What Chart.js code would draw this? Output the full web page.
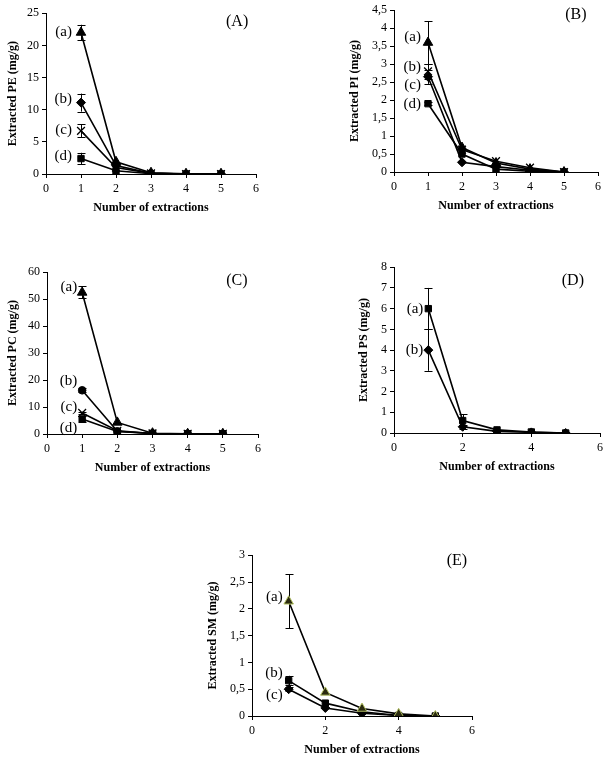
<!DOCTYPE html>
<html><head><meta charset="utf-8">
<script src="https://cdn.jsdelivr.net/npm/chart.js@4"></script>
<style>
html,body{margin:0;padding:0;background:#fff;width:609px;height:758px;overflow:hidden;}
canvas{position:absolute;}
</style></head><body>
<canvas id="cA"></canvas><canvas id="cB"></canvas><canvas id="cC"></canvas><canvas id="cD"></canvas><canvas id="cE"></canvas>
<script>
// ---- data ----
const extractions = [1, 2, 3, 4, 5];

// Panel A: PE
const peA = [22.0, 1.9, 0.2, 0.05, 0.05];
const peB = [11.1, 1.3, 0.1, 0.0, 0.0];
const peC = [6.7, 1.0, 0.1, 0.0, 0.0];
const peD = [2.4, 0.5, 0.05, 0.0, 0.0];
const peErrA = [1.2, 0, 0, 0, 0];
const peErrB = [1.4, 0, 0, 0, 0];
const peErrC = [1.0, 0, 0, 0, 0];
const peErrD = [0.9, 0, 0, 0, 0];

// Panel B: PI
const piA = [3.6, 0.68, 0.25, 0.08, 0.0];
const piB = [2.8, 0.62, 0.3, 0.12, 0.0];
const piC = [2.65, 0.27, 0.15, 0.05, 0.0];
const piD = [1.9, 0.5, 0.08, 0.02, 0.0];
const piErrA = [0.6, 0, 0, 0, 0];
const piErrB = [0.2, 0, 0, 0, 0];
const piErrC = [0.2, 0, 0, 0, 0];
const piErrD = [0.05, 0, 0, 0, 0];

// Panel C: PC
const pcA = [52.5, 4.3, 0.3, 0.1, 0.1];
const pcB = [16.2, 1.0, 0.2, 0.1, 0.1];
const pcC = [7.8, 1.2, 0.2, 0.1, 0.1];
const pcD = [5.6, 0.9, 0.2, 0.1, 0.1];
const pcErrA = [2.2, 0, 0, 0, 0];
const pcErrB = [0.8, 0, 0, 0, 0];
const pcErrC = [0.5, 0, 0, 0, 0];
const pcErrD = [1.0, 0, 0, 0, 0];

// Panel D: PS
const psA = [6.0, 0.6, 0.15, 0.05, 0.0];
const psB = [4.0, 0.3, 0.08, 0.03, 0.0];
const psErrA = [1.0, 0.3, 0, 0, 0];
const psErrB = [1.0, 0.1, 0, 0, 0];

// Panel E: SM
const smA = [2.14, 0.44, 0.14, 0.04, 0.0];
const smB = [0.66, 0.24, 0.08, 0.01, 0.0];
const smC = [0.5, 0.15, 0.05, 0.01, 0.0];
const smErrA = [0.5, 0, 0, 0, 0];
const smErrB = [0.09, 0, 0, 0, 0];
const smErrC = [0.04, 0, 0, 0, 0];

const seriesLabels4 = ['(a)', '(b)', '(c)', '(d)'];
const panelNames = ['(A)', '(B)', '(C)', '(D)', '(E)'];
const yTitles = ['Extracted PE (mg/g)', 'Extracted PI (mg/g)', 'Extracted PC (mg/g)', 'Extracted PS (mg/g)', 'Extracted SM (mg/g)'];
const xTitle = 'Number of extractions';

// ---- rendering ----
const FONT = "'Liberation Serif', 'Times New Roman', serif";

function mkSeries(vals, errs, style, radius, fill, border) {
  return {
    data: extractions.map((x, i) => ({x: x, y: vals[i]})),
    errs: errs,
    borderColor: '#000', borderWidth: 1.6,
    pointStyle: style, pointRadius: radius,
    pointBackgroundColor: fill || '#000',
    pointBorderColor: border || '#000',
    pointBorderWidth: style === 'crossRot' ? 1.3 : 1,
    tension: 0, fill: false
  };
}

const overlay = {
  id: 'overlay',
  beforeDatasetsDraw(chart) {
    const ctx = chart.ctx, xs = chart.scales.x, ys = chart.scales.y;
    ctx.save(); ctx.strokeStyle = '#000'; ctx.lineWidth = 1;
    chart.data.datasets.forEach(ds => {
      ds.data.forEach((p, i) => {
        const e = ds.errs[i]; if (!e) return;
        const px = Math.round(xs.getPixelForValue(p.x)) + 0.5;
        const y1 = ys.getPixelForValue(p.y + e), y2 = ys.getPixelForValue(Math.max(0, p.y - e));
        ctx.beginPath();
        ctx.moveTo(px, y1); ctx.lineTo(px, y2);
        ctx.moveTo(px - 4, Math.round(y1) + 0.5); ctx.lineTo(px + 4, Math.round(y1) + 0.5);
        ctx.moveTo(px - 4, Math.round(y2) + 0.5); ctx.lineTo(px + 4, Math.round(y2) + 0.5);
        ctx.stroke();
      });
    });
    ctx.restore();
  },
  afterDraw(chart) {
    const o = chart.options.plugins.overlay;
    const ctx = chart.ctx, xs = chart.scales.x, ys = chart.scales.y;
    ctx.save(); ctx.fillStyle = '#000';
    ctx.font = '15px ' + FONT;
    ctx.textBaseline = 'middle';
    ctx.textAlign = 'right';
    o.labels.forEach((t, i) => {
      ctx.fillText(t, xs.getPixelForValue(1) - o.off, ys.getPixelForValue(o.labelY[i]));
    });
    ctx.textAlign = 'center';
    ctx.font = '16px ' + FONT;
    ctx.fillText(o.panel, xs.getPixelForValue(o.panelPos[0]), ys.getPixelForValue(o.panelPos[1]));
    ctx.restore();
  }
};

function makePanel(id, area, yw, ymax, ystep, xstep, datasets, yTitle, ov) {
  const xh = 41, padT = 10, padR = 10;
  const c = document.getElementById(id);
  const w = area.r - area.l + yw + padR, h = area.b - area.t + padT + xh;
  c.width = w; c.height = h;
  c.style.left = (area.l - yw) + 'px'; c.style.top = (area.t - padT) + 'px';
  c.style.width = w + 'px'; c.style.height = h + 'px';
  const axisCommon = {
    grid: {display: true, drawOnChartArea: false, drawTicks: true, tickLength: 4, color: '#000', lineWidth: 1},
    border: {display: true, color: '#000', width: 1}
  };
  new Chart(c, {
    type: 'line',
    data: {datasets: datasets},
    options: {
      responsive: false, animation: false, devicePixelRatio: 1,
      layout: {padding: {top: padT, right: padR, left: 0, bottom: 0}},
      plugins: {legend: {display: false}, tooltip: {enabled: false}, overlay: ov},
      scales: {
        x: Object.assign({
          type: 'linear', min: 0, max: 6,
          ticks: {stepSize: xstep, color: '#000', font: {family: FONT, size: 12}, padding: 4, maxRotation: 0},
          title: {display: true, text: xTitle, color: '#000', font: {family: FONT, size: 12, weight: 'bold'}, padding: {top: 4, bottom: 0}},
          afterFit(s) { s.height = xh; }
        }, axisCommon),
        y: Object.assign({
          type: 'linear', min: 0, max: ymax,
          ticks: {stepSize: ystep, color: '#000', font: {family: FONT, size: 12}, padding: 3,
                  callback: v => String(Math.round(v * 100) / 100).replace('.', ',')},
          title: {display: true, text: yTitle, color: '#000', font: {family: FONT, size: 12, weight: 'bold'}, padding: {top: 0, bottom: 0}},
          afterFit(s) { s.width = yw; }
        }, axisCommon)
      }
    },
    plugins: [overlay]
  });
}

makePanel('cA', {l: 46, t: 13, r: 256, b: 174}, 40, 25, 5, 1, [
  mkSeries(peA, peErrA, 'triangle', 5.5),
  mkSeries(peB, peErrB, 'rectRot', 4.5),
  mkSeries(peC, peErrC, 'crossRot', 5.5),
  mkSeries(peD, peErrD, 'rect', 4.5)
], yTitles[0], {labels: seriesLabels4, labelY: [22, 11.6, 6.8, 2.8], off: 9, panel: panelNames[0], panelPos: [5.46, 23.6]});

makePanel('cB', {l: 394, t: 10, r: 598, b: 172}, 46, 4.5, 0.5, 1, [
  mkSeries(piA, piErrA, 'triangle', 5.5),
  mkSeries(piB, piErrB, 'crossRot', 5.5),
  mkSeries(piC, piErrC, 'rectRot', 4.5),
  mkSeries(piD, piErrD, 'rect', 4.5)
], yTitles[1], {labels: seriesLabels4, labelY: [3.75, 2.92, 2.42, 1.89], off: 7, panel: panelNames[1], panelPos: [5.35, 4.36]});

makePanel('cC', {l: 47, t: 272, r: 258, b: 434}, 41, 60, 10, 1, [
  mkSeries(pcA, pcErrA, 'triangle', 5.5),
  mkSeries(pcB, pcErrB, 'circle', 3.8),
  mkSeries(pcC, pcErrC, 'crossRot', 5.5),
  mkSeries(pcD, pcErrD, 'rect', 4.5)
], yTitles[2], {labels: seriesLabels4, labelY: [54.4, 19.6, 10, 2.2], off: 5, panel: panelNames[2], panelPos: [5.4, 56.7]});

makePanel('cD', {l: 394, t: 267, r: 600, b: 433}, 37, 8, 1, 2, [
  mkSeries(psA, psErrA, 'rect', 4.5),
  mkSeries(psB, psErrB, 'rectRot', 4.5)
], yTitles[3], {labels: seriesLabels4.slice(0, 2), labelY: [6.0, 4.0], off: 5, panel: panelNames[3], panelPos: [5.21, 7.33]});

makePanel('cE', {l: 252, t: 555, r: 472, b: 716}, 46, 3, 0.5, 2, [
  mkSeries(smA, smErrA, 'triangle', 5.5, '#2a2a10', '#b3c064'),
  mkSeries(smB, smErrB, 'rect', 4.5),
  mkSeries(smC, smErrC, 'rectRot', 4.5)
], yTitles[4], {labels: seriesLabels4.slice(0, 3), labelY: [2.22, 0.8, 0.39], off: 6, panel: panelNames[4], panelPos: [5.59, 2.89]});
</script>
</body></html>
